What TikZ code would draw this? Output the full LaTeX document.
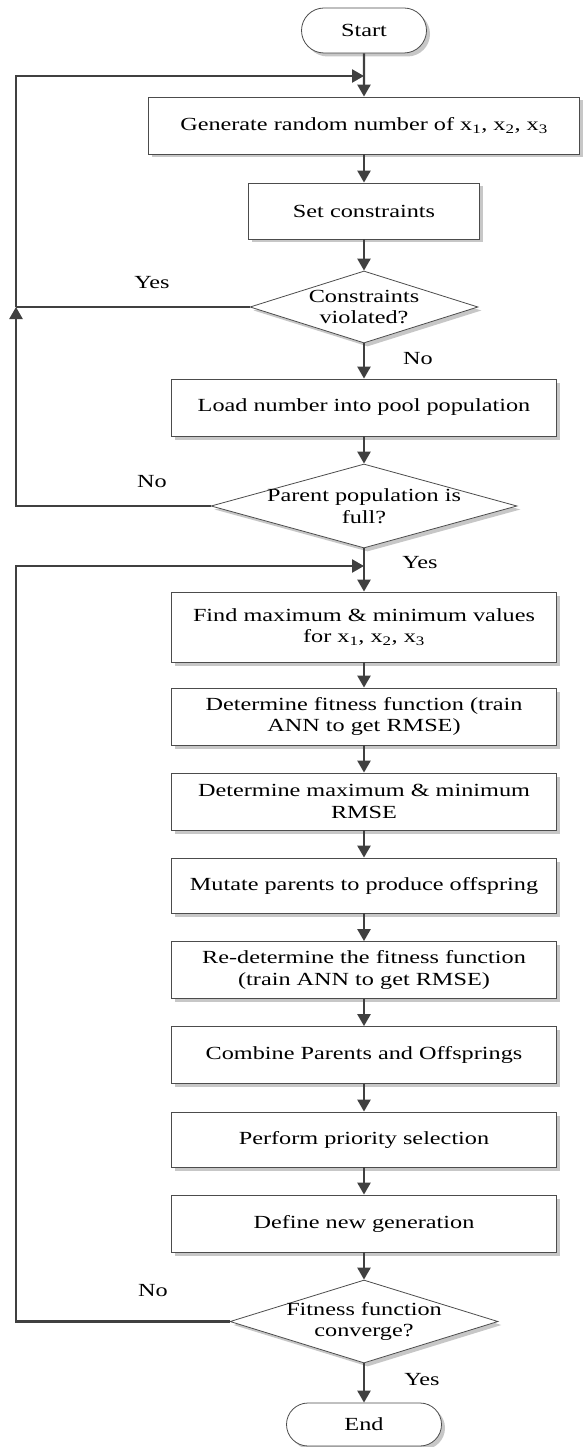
\documentclass[tikz,border=0pt]{standalone}
\usepackage{fontspec}
\setmainfont{Liberation Serif}[FakeStretch=1.31]
\usetikzlibrary{arrows.meta,shapes.geometric,shapes.misc,shadows}
\begin{document}
\begin{tikzpicture}[x=1pt,y=-1pt,
  font=\fontsize{18.5}{21.5}\selectfont,
  shade/.style={drop shadow={shadow xshift=3.5pt,shadow yshift=-3.5pt,fill=black!22,opacity=1}},
  box/.style={draw=black!70,line width=0.8pt,fill=white,minimum width=385pt,minimum height=57pt,align=center,inner sep=0pt,shade},
  term/.style={draw=black!70,line width=0.8pt,fill=white,rounded rectangle,minimum height=45pt,inner sep=0pt,shade},
  dia/.style={diamond,draw=black!70,line width=0.8pt,fill=white,inner sep=0pt,shade},
  conn/.style={draw=black!75,line width=2.4pt},
  arr/.style={conn,-{Triangle[length=12pt,width=13pt]}}]
\useasboundingbox (0,0) rectangle (583,1447);

\node[term,minimum width=125pt] (start) at (364,30.5) {Start};
\node[box,minimum width=431pt] (gen) at (364,125.5) {Generate random number of x\textsubscript{1}, x\textsubscript{2}, x\textsubscript{3}};
\node[box,minimum width=231pt,minimum height=56pt] (set) at (364,211) {Set constraints};
\node[dia,minimum width=228pt,minimum height=72pt] (d1) at (364,307) {};
\node[align=center] (d1t) at (364,307) {Constraints\\violated?};
\node[box] (load) at (364,407.5) {Load number into pool population};
\node[dia,minimum width=306pt,minimum height=84pt] (d2) at (364,506) {};
\node[align=center] (d2t) at (364,506) {Parent population is\\full?};
\node[box,minimum height=70pt] (find) at (364,627) {Find maximum \& minimum values\\for x\textsubscript{1}, x\textsubscript{2}, x\textsubscript{3}};
\node[box] (detfit) at (364,716.5) {Determine fitness function (train\\ANN to get RMSE)};
\node[box] (detmax) at (364,801.5) {Determine maximum \& minimum\\RMSE};
\node[box,minimum height=55pt] (mut) at (364,885.5) {Mutate parents to produce offspring};
\node[box] (redet) at (364,970) {Re-determine the fitness function\\(train ANN to get RMSE)};
\node[box] (comb) at (364,1055) {Combine Parents and Offsprings};
\node[box,minimum height=55pt] (perf) at (364,1139.5) {Perform priority selection};
\node[box] (def) at (364,1223.5) {Define new generation};
\node[dia,minimum width=268pt,minimum height=83pt] (d3) at (364,1321.5) {};
\node[align=center] (d3t) at (364,1321.5) {Fitness function\\converge?};
\node[term,minimum width=155pt,minimum height=43pt] (end) at (364,1424.5) {End};

\coordinate (j1) at (364,76);
\coordinate (m1) at (16,307);
\coordinate (j2) at (364,566);
\coordinate (l2) at (16,566);

\draw[arr] (start) -- (gen);
\draw[arr] (gen) -- (set);
\draw[arr] (set) -- (d1);
\draw[arr] (d1) -- (load);
\draw[arr] (load) -- (d2);
\draw[arr] (d2) -- (find);
\draw[arr] (find) -- (detfit);
\draw[arr] (detfit) -- (detmax);
\draw[arr] (detmax) -- (mut);
\draw[arr] (mut) -- (redet);
\draw[arr] (redet) -- (comb);
\draw[arr] (comb) -- (perf);
\draw[arr] (perf) -- (def);
\draw[arr] (def) -- (d3);
\draw[arr] (d3) -- (end);

\draw[conn] (d1.west) -- (m1);
\draw[arr] (d2.west) -| (m1);
\draw[arr] (m1) |- (j1);
\draw[arr] (d3.west) -| (l2) -- (j2);

\node (yes1) at (152,283) {Yes};
\node (no1) at (418,359) {No};
\node (no2) at (152,482) {No};
\node (yes2) at (420,563) {Yes};
\node (no3) at (153,1291) {No};
\node (yes3) at (422,1380) {Yes};
\end{tikzpicture}
\end{document}
